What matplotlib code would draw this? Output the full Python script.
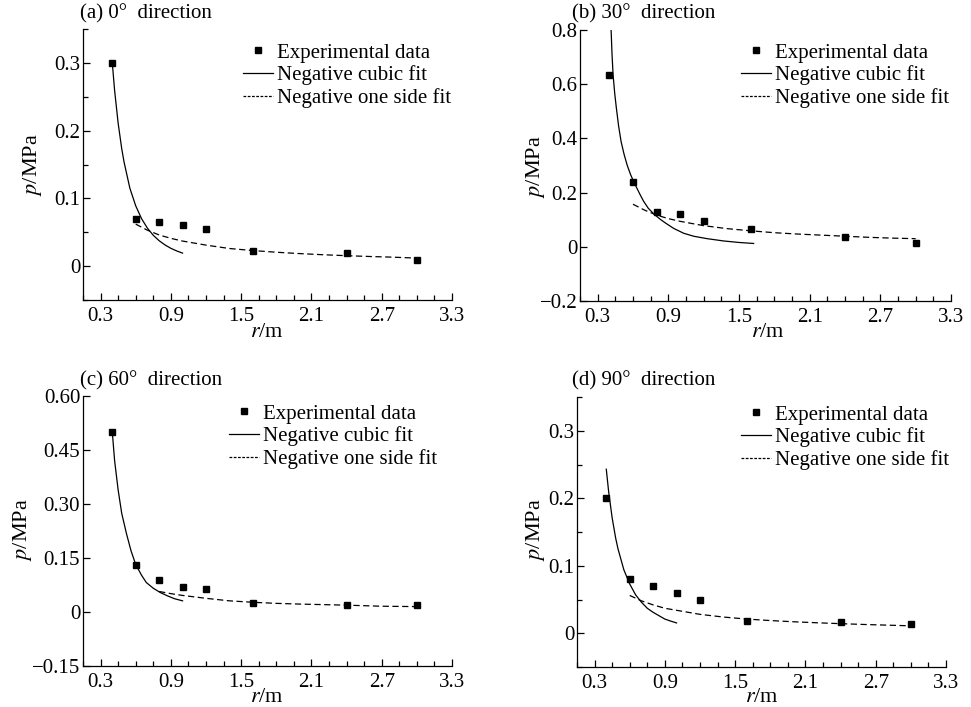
import matplotlib
matplotlib.use("Agg")
import matplotlib.pyplot as plt
from matplotlib.lines import Line2D
from matplotlib.ticker import MultipleLocator, FixedLocator, FixedFormatter

plt.rcParams['font.family'] = ['Liberation Serif', 'DejaVu Serif']
plt.rcParams['mathtext.fontset'] = 'stix'

# ---------------- data ----------------
r_exp = [0.4, 0.6, 0.8, 1.0, 1.2, 1.6, 2.4, 3.0]

p_exp_a = [0.300, 0.070, 0.065, 0.060, 0.055, 0.022, 0.019, 0.009]
p_exp_b = [0.633, 0.240, 0.128, 0.120, 0.096, 0.064, 0.035, 0.015]
p_exp_c = [0.500, 0.130, 0.090, 0.070, 0.065, 0.025, 0.020, 0.020]
p_exp_d = [0.200, 0.080, 0.070, 0.060, 0.050, 0.018, 0.017, 0.013]

# negative cubic fit curves
r_cub_a = [0.40, 0.42, 0.45, 0.48, 0.50, 0.55, 0.60, 0.65, 0.70, 0.75, 0.80, 0.85, 0.90, 0.95, 1.00]
p_cub_a = [0.300, 0.259, 0.211, 0.174, 0.154, 0.115, 0.089, 0.070, 0.056, 0.0455, 0.0375, 0.0313, 0.0263, 0.0224, 0.0192]

r_cub_b = [0.414, 0.422, 0.431, 0.445, 0.459, 0.478, 0.499, 0.525, 0.55, 0.578, 0.606, 0.662, 0.69,
           0.73, 0.78, 0.83, 0.875, 0.945, 1.03, 1.115, 1.23, 1.37, 1.50, 1.624]
p_cub_b = [0.80, 0.71, 0.634, 0.565, 0.511, 0.445, 0.388, 0.340, 0.302, 0.268, 0.240, 0.191, 0.168,
           0.142, 0.120, 0.102, 0.088, 0.068, 0.050, 0.039, 0.030, 0.0215, 0.016, 0.0123]

r_cub_c = [0.40, 0.42, 0.45, 0.48, 0.52, 0.56, 0.60, 0.65, 0.69, 0.75, 0.81, 0.87, 0.93, 1.00]
p_cub_c = [0.500, 0.420, 0.339, 0.275, 0.219, 0.170, 0.132, 0.102, 0.082, 0.066, 0.054, 0.045, 0.037, 0.031]

r_cub_d = [0.40, 0.42, 0.45, 0.48, 0.50, 0.55, 0.60, 0.65, 0.70, 0.75, 0.80, 0.85, 0.90, 0.95, 1.00]
p_cub_d = [0.243, 0.210, 0.171, 0.141, 0.125, 0.094, 0.073, 0.057, 0.046, 0.037, 0.031, 0.026, 0.021, 0.018, 0.0153]

# negative one side fit curves
r_one_a = [0.6, 0.7, 0.8, 0.9, 1.0, 1.2, 1.4, 1.6, 1.8, 2.0, 2.2, 2.4, 2.6, 2.8, 3.0]
p_one_a = [0.062, 0.053, 0.046, 0.041, 0.037, 0.031, 0.026, 0.023, 0.0205, 0.0185, 0.0168, 0.0154, 0.0142, 0.0132, 0.0118]

r_one_b = [0.6, 0.7, 0.8, 0.9, 1.0, 1.2, 1.4, 1.6, 1.8, 2.0, 2.2, 2.4, 2.6, 2.8, 3.0]
p_one_b = [0.157, 0.135, 0.117, 0.104, 0.094, 0.078, 0.067, 0.059, 0.052, 0.047, 0.043, 0.039, 0.035, 0.032, 0.030]

r_one_c = [0.8, 0.9, 1.0, 1.2, 1.4, 1.6, 1.8, 2.0, 2.4, 2.7, 3.0]
p_one_c = [0.057, 0.051, 0.046, 0.038, 0.031, 0.027, 0.024, 0.022, 0.019, 0.016, 0.015]

r_one_d = [0.6, 0.7, 0.8, 0.9, 1.0, 1.2, 1.4, 1.6, 1.8, 2.0, 2.2, 2.4, 2.6, 2.8, 3.0]
p_one_d = [0.056, 0.048, 0.042, 0.037, 0.034, 0.028, 0.024, 0.021, 0.0188, 0.017, 0.0155, 0.0142, 0.013, 0.012, 0.011]

titles = ["(a) 0°  direction", "(b) 30°  direction", "(c) 60°  direction", "(d) 90°  direction"]
legend_labels = ["Experimental data", "Negative cubic fit", "Negative one side fit"]

x_ticks = [0.3, 0.9, 1.5, 2.1, 2.7, 3.3]
x_tick_labels = ["0.3", "0.9", "1.5", "2.1", "2.7", "3.3"]

y_ticks_a = [0, 0.1, 0.2, 0.3]
y_labels_a = ["0", "0.1", "0.2", "0.3"]
y_ticks_b = [-0.2, 0, 0.2, 0.4, 0.6, 0.8]
y_labels_b = ["\u22120.2", "0", "0.2", "0.4", "0.6", "0.8"]
y_ticks_c = [-0.15, 0, 0.15, 0.30, 0.45, 0.60]
y_labels_c = ["\u22120.15", "0", "0.15", "0.30", "0.45", "0.60"]
y_ticks_d = [0, 0.1, 0.2, 0.3]
y_labels_d = ["0", "0.1", "0.2", "0.3"]

# ---------------- layout ----------------
W, H = 971, 707
fig = plt.figure(figsize=(W / 100, H / 100), dpi=100)
FS = 15

def px_axes(l, t, r, b):
    return [l / W, 1 - b / H, (r - l) / W, (b - t) / H]

panels = [
    dict(box=(83, 29, 452, 300), ylim=(-0.05, 0.35), yt=y_ticks_a, yl=y_labels_a, ymin=0.05,
         exp=p_exp_a, rc=r_cub_a, pc=p_cub_a, ro=r_one_a, po=p_one_a,
         leg=(243, 43), title=(80, 14), ylab=(33, 165), xlab=(267, 333)),
    dict(box=(580, 30, 951, 301), ylim=(-0.2, 0.8), yt=y_ticks_b, yl=y_labels_b, ymin=None,
         exp=p_exp_b, rc=r_cub_b, pc=p_cub_b, ro=r_one_b, po=p_one_b,
         leg=(741, 43), title=(572, 14), ylab=(535, 167), xlab=(768, 333)),
    dict(box=(83, 396, 452, 666), ylim=(-0.15, 0.60), yt=y_ticks_c, yl=y_labels_c, ymin=None,
         exp=p_exp_c, rc=r_cub_c, pc=p_cub_c, ro=r_one_c, po=p_one_c,
         leg=(229, 404), title=(80, 381), ylab=(22, 530), xlab=(267, 697)),
    dict(box=(577, 397, 946, 667), ylim=(-0.05, 0.35), yt=y_ticks_d, yl=y_labels_d, ymin=0.05,
         exp=p_exp_d, rc=r_cub_d, pc=p_cub_d, ro=r_one_d, po=p_one_d,
         leg=(741, 405), title=(572, 381), ylab=(535, 530), xlab=(762, 697)),
]

DASH = (0, (5, 2.8))

for i, pn in enumerate(panels):
    l, t, rr, b = pn['box']
    ax = fig.add_axes(px_axes(l, t, rr, b))
    ax.plot(r_exp, pn['exp'], linestyle='none', marker='s', markersize=4.2,
            color='black', zorder=3)
    ax.plot(pn['rc'], pn['pc'], color='black', lw=0.9)
    ax.plot(pn['ro'], pn['po'], color='black', lw=0.9, linestyle=DASH)

    ax.set_xlim(0.15, 3.3)
    ax.set_ylim(*pn['ylim'])
    ax.spines['top'].set_visible(False)
    ax.spines['right'].set_visible(False)
    for s in ('left', 'bottom'):
        ax.spines[s].set_linewidth(0.9)

    ax.xaxis.set_major_locator(FixedLocator(x_ticks))
    ax.xaxis.set_major_formatter(FixedFormatter(x_tick_labels))
    ax.xaxis.set_minor_locator(MultipleLocator(0.15))
    ax.yaxis.set_major_locator(FixedLocator(pn['yt']))
    ax.yaxis.set_major_formatter(FixedFormatter(pn['yl']))
    if pn['ymin']:
        ax.yaxis.set_minor_locator(MultipleLocator(pn['ymin']))
    ax.tick_params(which='both', direction='in', top=False, right=False,
                   labelsize=FS, width=0.9)
    ax.tick_params(which='major', length=5)
    ax.tick_params(which='minor', length=3.5)
    ax.tick_params(axis='x', pad=5)
    ax.tick_params(axis='y', pad=2)

    handles = [
        Line2D([], [], linestyle='none', marker='s', markersize=4.0, color='black'),
        Line2D([], [], color='black', lw=0.9),
        Line2D([], [], color='black', lw=0.9, linestyle=(0, (2.2, 1.2))),
    ]
    lx, ly = pn['leg']
    ax_w, ax_h = rr - l, b - t
    ax.legend(handles, legend_labels, loc='upper left',
              bbox_to_anchor=((lx - l) / ax_w, (b - ly) / ax_h),
              frameon=False, fontsize=FS, handlelength=1.45, handletextpad=0.2,
              labelspacing=0.13, borderpad=0, borderaxespad=0, numpoints=1)

    tx, ty = pn['title']
    fig.text(tx / W, 1 - ty / H, titles[i], fontsize=FS, ha='left', va='center')
    yx, yy = pn['ylab']
    fig.text(yx / W, 1 - yy / H, "$p$/MPa", fontsize=FS + 1, rotation=90,
             ha='center', va='center')
    xx, xy = pn['xlab']
    fig.text(xx / W, 1 - xy / H, "$r$/m", fontsize=FS + 1, ha='center', va='center')

fig.savefig("out.png", dpi=100)
